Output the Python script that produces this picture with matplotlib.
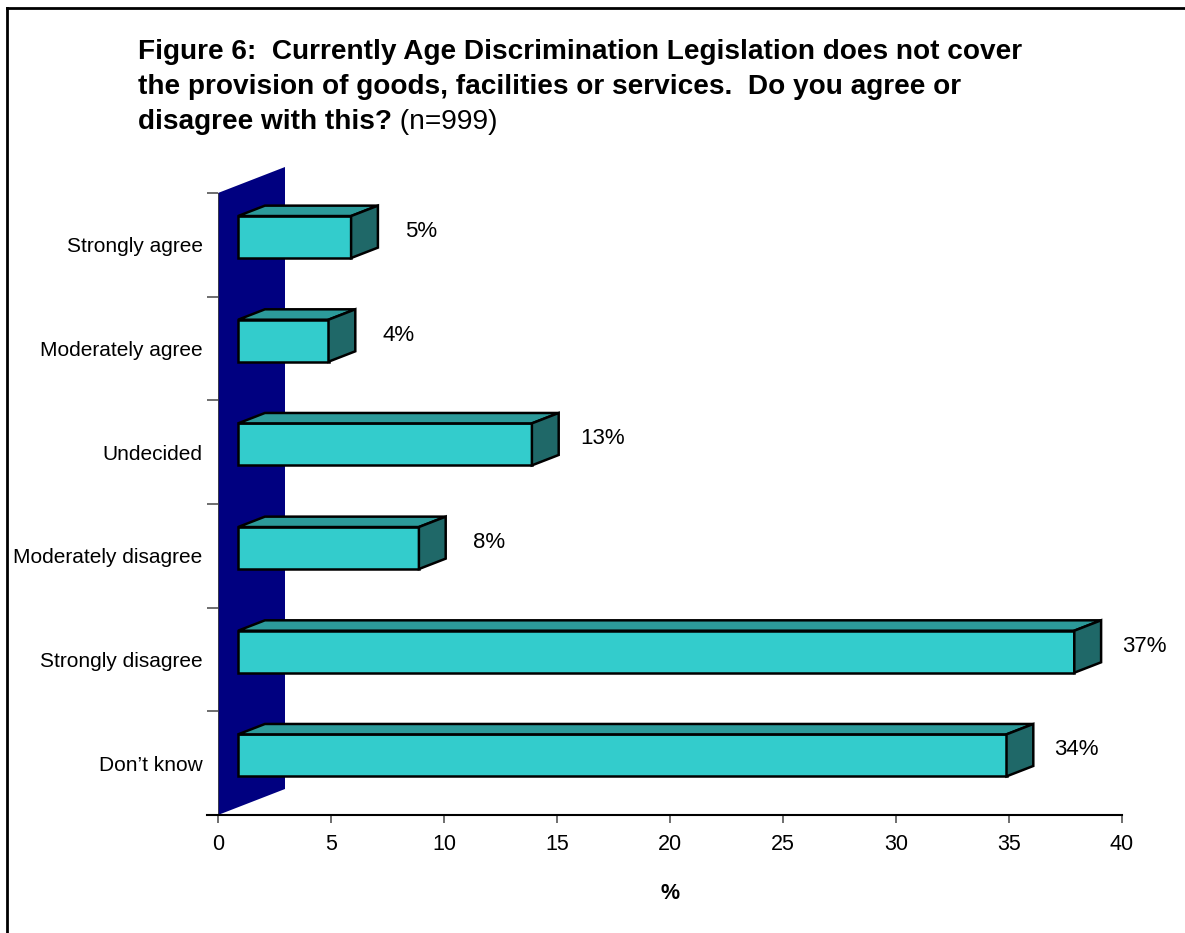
import matplotlib.pyplot as plt
from matplotlib.patches import Polygon
from matplotlib.lines import Line2D

plt.rcParams['font.family'] = ['Liberation Sans', 'DejaVu Sans']

# survey answers, bottom row first
categories = ['Don\u2019t know', 'Strongly disagree', 'Moderately disagree',
              'Undecided', 'Moderately agree', 'Strongly agree']
values = [34, 37, 8, 13, 4, 5]
labels = ['34%', '37%', '8%', '13%', '4%', '5%']
xticks = [0, 5, 10, 15, 20, 25, 30, 35, 40]

W, H = 1185, 933
fig = plt.figure(figsize=(W / 100, H / 100), dpi=100)
ax = fig.add_axes([218 / W, 1 - 815 / H, (1122 - 218) / W, (815 - 193) / H])
ax.set_xlim(0, 40)
ax.set_ylim(0, len(categories))

# fake 3d: depth direction goes right and up
DX = 67 / 22.6
DY = 26 / ((815 - 193) / len(categories))
z0, z1 = 0.30, 0.70
bh = 0.405


def P(x, y, z):
    return (x + z * DX, y + z * DY)


# back wall
wall = Polygon([P(0, 0, 0), P(0, 0, 1), P(0, 6, 1), P(0, 6, 0)],
               closed=True, facecolor='#000080', edgecolor='none',
               clip_on=False, zorder=1)
ax.add_patch(wall)

front_c, top_c, side_c = '#33CCCC', '#2C9A9A', '#1F6868'
for i, (v, lab) in enumerate(zip(values, labels)):
    c = i + 0.5
    lo, hi = c - bh / 2, c + bh / 2
    faces = [
        ([P(0, lo, z0), P(v, lo, z0), P(v, hi, z0), P(0, hi, z0)], front_c),
        ([P(0, hi, z0), P(v, hi, z0), P(v, hi, z1), P(0, hi, z1)], top_c),
        ([P(v, lo, z0), P(v, lo, z1), P(v, hi, z1), P(v, hi, z0)], side_c),
    ]
    for pts, col in faces:
        ax.add_patch(Polygon(pts, closed=True, facecolor=col,
                             edgecolor='black', lw=1.8, joinstyle='miter',
                             clip_on=False, zorder=3))
    ax.text(v + 4, c + 0.13, lab, ha='center', va='center', fontsize=16)

# axes and ticks
for s in ['top', 'right', 'left', 'bottom']:
    ax.spines[s].set_visible(False)
ax.add_line(Line2D([0, 0], [0, 6], color='#444444', lw=1.2, zorder=2))
ax.add_line(Line2D([-11 / 22.6, 40], [0, 0], color='black', lw=1.5,
                   clip_on=False, zorder=4))

ax.set_xticks(xticks)
ax.set_xticklabels([str(t) for t in xticks], fontsize=15.5)
ax.tick_params(axis='x', direction='out', length=6, width=1.2,
               color='#555555', pad=8)
ax.set_yticks(range(len(categories) + 1))
ax.set_yticklabels([])
ax.tick_params(axis='y', which='major', direction='out', length=8,
               width=1.2, color='#555555')
ax.set_yticks([i + 0.5 for i in range(len(categories))], minor=True)
ax.set_yticklabels(categories, minor=True, fontsize=15)
ax.tick_params(axis='y', which='minor', length=0, pad=11)
ax.set_xlabel('%', fontsize=15.5, fontweight='bold', labelpad=20)

# title lines
tx = 138 / W
ts = 20.2
fig.text(tx, 1 - 59 / H,
         'Figure 6:  Currently Age Discrimination Legislation does not cover',
         fontsize=ts, fontweight='bold', va='baseline')
fig.text(tx, 1 - 94 / H,
         'the provision of goods, facilities or services.  Do you agree or',
         fontsize=ts, fontweight='bold', va='baseline')
t3 = fig.text(tx, 1 - 129 / H, 'disagree with this?',
              fontsize=ts, fontweight='bold', va='baseline')
fig.canvas.draw()
bb = t3.get_window_extent()
fig.text(bb.x1 / W, 1 - 129 / H, ' (n=999)', fontsize=ts, va='baseline')

# outer frame
fig.add_artist(Line2D([7 / W, 7 / W], [0, 1 - 8 / H], color='black', lw=2,
                      transform=fig.transFigure))
fig.add_artist(Line2D([7 / W, 1], [1 - 8 / H, 1 - 8 / H], color='black', lw=2,
                      transform=fig.transFigure))

fig.savefig('out.png', dpi=100)
